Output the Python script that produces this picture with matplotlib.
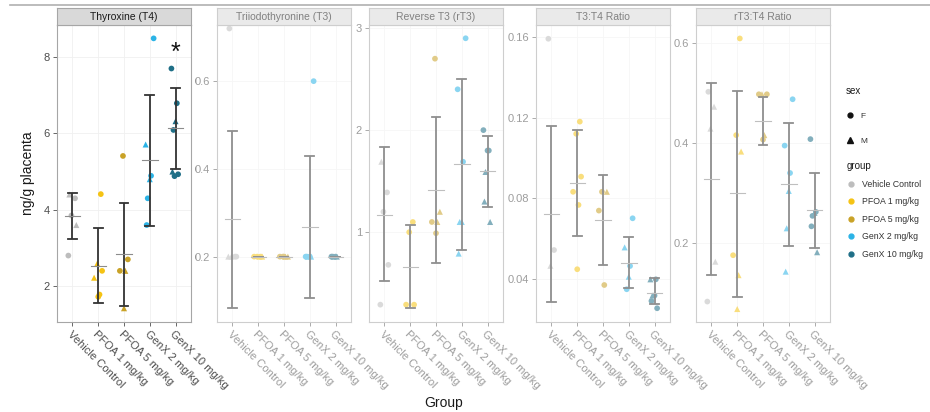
import matplotlib
matplotlib.use("Agg")
import matplotlib.pyplot as plt
from matplotlib.lines import Line2D
from matplotlib.patches import Polygon
import numpy as np

plt.rcParams['font.family'] = ['Liberation Sans', 'DejaVu Sans']

groups = ["Vehicle Control", "PFOA 1 mg/kg", "PFOA 5 mg/kg", "GenX 2 mg/kg", "GenX 10 mg/kg"]
panels = ["Thyroxine (T4)", "Triiodothyronine (T3)", "Reverse T3 (rT3)", "T3:T4 Ratio", "rT3:T4 Ratio"]
group_colors = ["#BDBDBD", "#F5C314", "#C9A227", "#2BB3E6", "#1F6F87"]

# ---- Thyroxine (T4)
t4_vals = [[4.4, 4.3, 3.85, 3.6, 2.8],
           [4.41, 2.59, 2.40, 2.22, 1.78, 1.72],
           [5.41, 2.70, 2.40, 2.40, 1.42],
           [8.49, 5.71, 4.89, 4.80, 4.30, 3.60],
           [7.70, 6.79, 6.32, 6.09, 5.00, 4.93, 4.88]]
t4_sex = [["M", "F", "F", "M", "F"],
          ["F", "M", "F", "M", "F", "F"],
          ["F", "F", "F", "M", "M"],
          ["F", "M", "F", "M", "F", "F"],
          ["F", "F", "M", "F", "M", "F", "F"]]
t4_mean = [3.83, 2.52, 2.84, 5.30, 6.15]
t4_lo = [3.24, 1.55, 1.48, 3.58, 5.07]
t4_hi = [4.43, 3.51, 4.19, 7.00, 7.20]

# ---- Triiodothyronine (T3)
t3_vals = [[0.72, 0.2, 0.2, 0.2, 0.2],
           [0.2, 0.2, 0.2, 0.2, 0.2],
           [0.2, 0.2, 0.2, 0.2, 0.2],
           [0.60, 0.2, 0.2, 0.2, 0.2, 0.2],
           [0.2, 0.2, 0.2, 0.2, 0.2]]
t3_sex = [["F", "F", "M", "F", "M"],
          ["F", "F", "M", "F", "M"],
          ["F", "M", "F", "M", "F"],
          ["F", "F", "M", "F", "M", "F"],
          ["F", "M", "F", "M", "F"]]
t3_mean = [0.285, 0.2, 0.2, 0.268, 0.2]
t3_lo = [0.082, 0.2, 0.2, 0.106, 0.2]
t3_hi = [0.486, 0.2, 0.2, 0.429, 0.2]

# ---- Reverse T3 (rT3)
rt3_vals = [[1.69, 1.39, 1.20, 0.68, 0.29],
            [1.10, 1.00, 0.29, 0.29],
            [2.70, 1.20, 1.10, 1.10, 0.99],
            [2.90, 2.40, 1.69, 1.10, 1.10, 0.79],
            [2.00, 1.80, 1.80, 1.59, 1.30, 1.10]]
rt3_sex = [["M", "F", "F", "F", "F"],
           ["F", "F", "F", "F"],
           ["F", "M", "F", "M", "F"],
           ["F", "F", "F", "M", "M", "M"],
           ["F", "F", "F", "M", "M", "M"]]
rt3_mean = [1.17, 0.66, 1.41, 1.67, 1.60]
rt3_lo = [0.52, 0.26, 0.70, 0.83, 1.25]
rt3_hi = [1.83, 1.07, 2.13, 2.50, 1.94]

# ---- T3:T4 Ratio
t3t4_vals = [[0.159, 0.0545, 0.0467],
             [0.118, 0.112, 0.0908, 0.0833, 0.0768, 0.045],
             [0.0833, 0.0833, 0.074, 0.0372],
             [0.0702, 0.0558, 0.0466, 0.0413, 0.0351],
             [0.040, 0.040, 0.032, 0.032, 0.0293, 0.0257]]
t3t4_sex = [["F", "F", "M"],
            ["F", "F", "F", "F", "F", "F"],
            ["F", "M", "F", "F"],
            ["F", "M", "F", "M", "F"],
            ["M", "F", "F", "M", "F", "F"]]
t3t4_mean = [0.0725, 0.0878, 0.0693, 0.0482, 0.0334]
t3t4_lo = [0.0286, 0.0614, 0.0471, 0.0356, 0.0276]
t3t4_hi = [0.1158, 0.1139, 0.0916, 0.0611, 0.0405]

# ---- rT3:T4 Ratio
rt3t4_vals = [[0.503, 0.473, 0.429, 0.162, 0.082],
              [0.61, 0.416, 0.383, 0.175, 0.135, 0.067],
              [0.498, 0.498, 0.498, 0.416, 0.407],
              [0.488, 0.395, 0.340, 0.304, 0.229, 0.142],
              [0.408, 0.262, 0.260, 0.254, 0.233, 0.181]]
rt3t4_sex = [["F", "M", "M", "M", "F"],
             ["F", "F", "M", "F", "M", "M"],
             ["M", "F", "F", "M", "F"],
             ["F", "F", "F", "M", "M", "M"],
             ["F", "F", "M", "F", "F", "M"]]
rt3t4_mean = [0.328, 0.299, 0.445, 0.317, 0.266]
rt3t4_lo = [0.135, 0.092, 0.396, 0.193, 0.190]
rt3t4_hi = [0.520, 0.505, 0.493, 0.440, 0.341]

panel_vals = [t4_vals, t3_vals, rt3_vals, t3t4_vals, rt3t4_vals]
panel_sex = [t4_sex, t3_sex, rt3_sex, t3t4_sex, rt3t4_sex]
panel_mean = [t4_mean, t3_mean, rt3_mean, t3t4_mean, rt3t4_mean]
panel_lo = [t4_lo, t3_lo, rt3_lo, t3t4_lo, rt3t4_lo]
panel_hi = [t4_hi, t3_hi, rt3_hi, t3t4_hi, rt3t4_hi]
panel_ticks = [[2, 4, 6, 8], [0.2, 0.4, 0.6], [1, 2, 3], [0.04, 0.08, 0.12, 0.16], [0.2, 0.4, 0.6]]
panel_tick_labels = [["2", "4", "6", "8"], ["0.2", "0.4", "0.6"], ["1", "2", "3"],
                     ["0.04", "0.08", "0.12", "0.16"], ["0.2", "0.4", "0.6"]]
panel_ylim = [(1.06, 8.84), (0.051, 0.728), (0.12, 3.03), (0.0189, 0.1658), (0.041, 0.637)]

sex_marker = {"F": "o", "M": "^"}
jitter_pattern = [-0.12, 0.10, -0.04, 0.15, -0.16, 0.05, 0.0, -0.08]

W, H = 930, 412
fig = plt.figure(figsize=(W / 100, H / 100), dpi=100)


def fx(x):
    return x / W


def fy(y):
    return 1 - y / H


panel_left_px = [57, 217, 369, 536, 696]
panel_w_px = 134
top_px, bot_px, strip_top_px = 25, 322, 8

txt_col = "#4D4D4D"
for i, name in enumerate(panels):
    l = panel_left_px[i]
    ax = fig.add_axes([fx(l), fy(bot_px), panel_w_px / W, (bot_px - top_px) / H])
    sax = fig.add_axes([fx(l), fy(top_px), panel_w_px / W, (top_px - strip_top_px) / H])
    sax.set_facecolor("#D9D9D9")
    sax.set_xticks([]); sax.set_yticks([])
    for s in sax.spines.values():
        s.set_color("#A6A6A6"); s.set_linewidth(0.8)
    sax.text(0.5, 0.45, name, ha="center", va="center", fontsize=7.5, color="#1A1A1A",
             transform=sax.transAxes)

    ax.set_xlim(0.4, 5.6)
    ax.set_ylim(*panel_ylim[i])
    ax.set_xticks(range(1, 6))
    ax.set_xticklabels(groups, rotation=-45, ha="left", va="top", rotation_mode="anchor",
                       fontsize=8, color=txt_col)
    ax.set_yticks(panel_ticks[i])
    ax.set_yticklabels(panel_tick_labels[i], fontsize=8, color=txt_col)
    ax.tick_params(length=3, color="#4D4D4D", width=0.6, pad=2)
    ax.grid(True, color="#F0F0F0", lw=0.6)
    ax.set_axisbelow(True)
    for s in ax.spines.values():
        s.set_color("#A6A6A6"); s.set_linewidth(0.8)

    for g in range(5):
        xc = g + 1
        vals = panel_vals[i][g]
        sexes = panel_sex[i][g]
        for k, (v, sx) in enumerate(zip(vals, sexes)):
            xj = xc + jitter_pattern[(k + g) % len(jitter_pattern)]
            ax.scatter([xj], [v], marker=sex_marker[sx], s=17 if sx == "F" else 19,
                       color=group_colors[g], edgecolors="none", zorder=3)
        lo, hi, mu = panel_lo[i][g], panel_hi[i][g], panel_mean[i][g]
        ax.plot([xc, xc], [lo, hi], color="#333333", lw=1.3, zorder=4, solid_capstyle="butt")
        ax.plot([xc - 0.17, xc + 0.17], [lo, lo], color="#333333", lw=1.3, zorder=4)
        ax.plot([xc - 0.17, xc + 0.17], [hi, hi], color="#333333", lw=1.3, zorder=4)
        ax.plot([xc - 0.3, xc + 0.3], [mu, mu], color="#8C8C8C", lw=0.8, zorder=5)

    if i == 0:
        ax.text(5, 8.1, "*", ha="center", va="center", fontsize=18, color="#111111", zorder=6)

# fading overlay over panels 2-5
poly_px = [(196, 6), (834, 6), (834, 272), (930, 272), (930, 412), (287, 412), (205, 330), (196, 330)]
fade = Polygon([(fx(x), fy(y)) for x, y in poly_px], closed=True, transform=fig.transFigure,
               facecolor="white", edgecolor="none", alpha=0.45, zorder=20)
fig.add_artist(fade)

# top rule
fig.add_artist(Line2D([fx(10), fx(930)], [fy(4.5), fy(4.5)], transform=fig.transFigure,
                      color="#B0B0B0", lw=1.2, zorder=25))

fig.text(fx(28), fy(173), "ng/g placenta", rotation=90, ha="center", va="center", fontsize=10,
         color="#1A1A1A", zorder=30)
fig.text(fx(444), fy(403), "Group", ha="center", va="center", fontsize=10, color="#1A1A1A", zorder=30)

# legends
sex_handles = [Line2D([], [], marker="o", ls="none", color="#111111", markersize=3.5),
               Line2D([], [], marker="^", ls="none", color="#111111", markersize=3.8)]
leg1 = fig.legend(sex_handles, ["F", "M"], title="sex", loc="upper left",
                  bbox_to_anchor=(fx(840), fy(80)), frameon=False, fontsize=6,
                  title_fontsize=7, labelspacing=2.0, handlelength=1.0, handletextpad=0.8,
                  alignment="left", borderpad=0.2)
grp_handles = [Line2D([], [], marker="o", ls="none", color=c, markersize=3.5) for c in group_colors]
leg2 = fig.legend(grp_handles, groups, title="group", loc="upper left",
                  bbox_to_anchor=(fx(840), fy(155)), frameon=False, fontsize=6.3,
                  title_fontsize=7, labelspacing=0.98, handlelength=1.0, handletextpad=0.8,
                  alignment="left", borderpad=0.2)
for leg in (leg1, leg2):
    for t in leg.get_texts():
        t.set_color("#333333")
    leg.get_title().set_color("#1A1A1A")

fig.savefig("out.png", dpi=100)
